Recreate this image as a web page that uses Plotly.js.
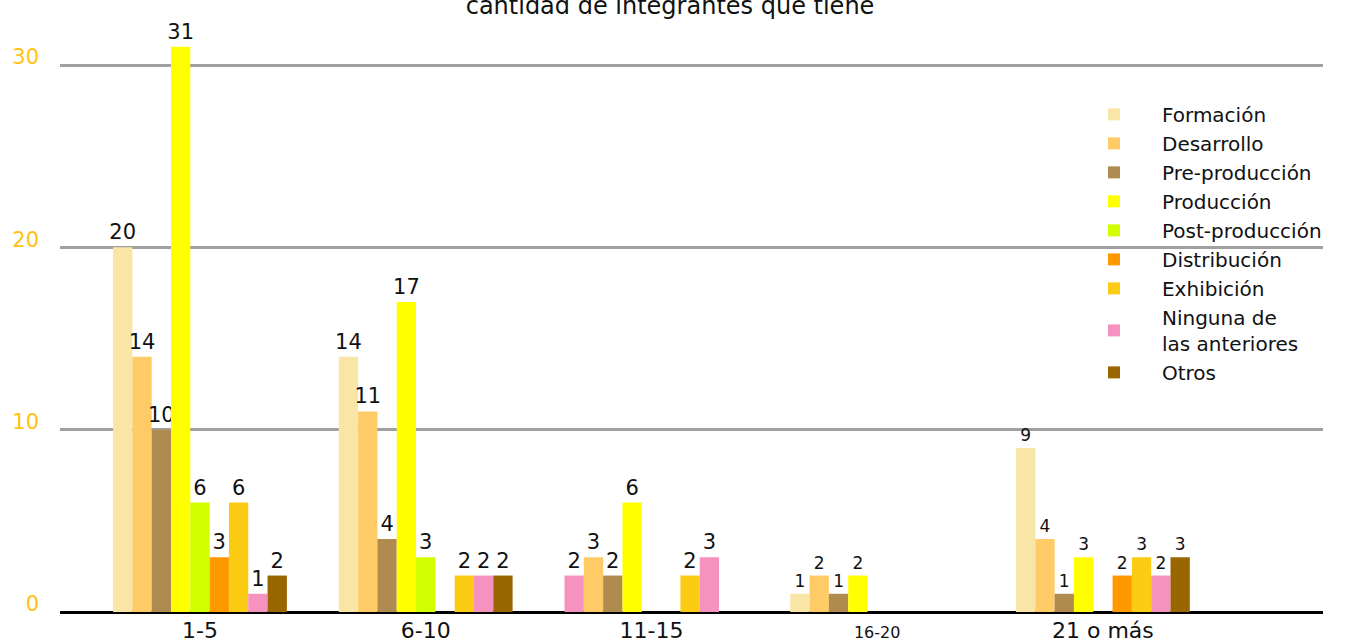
<!DOCTYPE html>
<html>
<head>
<meta charset="utf-8">
<script src="https://cdn.plot.ly/plotly-3.0.1.min.js"></script>
<style>
  html, body { margin: 0; padding: 0; background: #fff; }
  #chart { width: 1366px; height: 644px; }
</style>
</head>
<body>
<div id="chart"></div>
<script>
const categories = ['1-5', '6-10', '11-15', '16-20', '21 o más'];
const tickLabels = ['1-5', '6-10', '11-15', '<span style="font-size:16px">16-20</span>', '21 o más'];

const seriesNames = [
    'Formación', 'Desarrollo', 'Pre-producción', 'Producción', 'Post-producción',
    'Distribución', 'Exhibición', 'Ninguna de<br>las anteriores', 'Otros'
];

const formacion = [20, 14, 2, 1, 9];
const desarrollo = [14, 11, 3, 2, 4];
const preproduccion = [10, 4, 2, 1, 1];
const produccion = [31, 17, 6, 2, 3];
const postproduccion = [6, 3, 0, 0, 0];
const distribucion = [3, 0, 0, 0, 2];
const exhibicion = [6, 2, 2, 0, 3];
const ninguna = [1, 2, 3, 0, 2];
const otros = [2, 2, 0, 0, 3];

const seriesValues = [
    formacion, desarrollo, preproduccion, produccion, postproduccion,
    distribucion, exhibicion, ninguna, otros
];

const seriesColors = [
    '#F9E5A6', '#FECB66', '#B08B50', '#FFFF00', '#D2FF00',
    '#FF9900', '#FCCB14', '#F692C0', '#996600'
];

// the source drew the first bar of 11-15 in pink
const colorOverrides = { 0: { '11-15': '#F692C0' } };

// smaller value labels for the last two groups, as in the source
const labelSizes = [21, 21, 21, 17, 17];

const data = seriesValues.map((values, i) => {
    const overrides = colorOverrides[i] || {};
    return {
        type: 'bar',
        name: seriesNames[i],
        x: categories,
        y: values,
        text: values.map(v => (v ? String(v) : '')),
        textposition: 'outside',
        constraintext: 'none',
        cliponaxis: false,
        textfont: { family: 'DejaVu Sans', size: labelSizes, color: '#111' },
        marker: { color: categories.map(c => overrides[c] || seriesColors[i]) },
        hoverinfo: 'name+y'
    };
});

const layout = {
    width: 1366,
    height: 644,
    margin: { l: 60, r: 43, t: 10, b: 32 },
    paper_bgcolor: '#fff',
    plot_bgcolor: '#fff',
    font: { family: 'DejaVu Sans', color: '#111' },
    title: {
        text: 'cantidad de integrantes que tiene',
        font: { family: 'DejaVu Sans', size: 24, color: '#111' },
        x: 0.483,
        xanchor: 'center',
        xref: 'paper',
        y: 0.978,
        yref: 'container',
        yanchor: 'bottom'
    },
    barmode: 'group',
    bargap: 0.23,
    bargroupgap: 0,
    xaxis: {
        type: 'category',
        range: [-0.62, 4.975],
        tickmode: 'array',
        tickvals: categories,
        ticktext: tickLabels,
        tickfont: { family: 'DejaVu Sans', size: 22, color: '#111' },
        ticks: '',
        showgrid: false,
        showline: false,
        zeroline: false,
        ticklabelstandoff: 3
    },
    yaxis: {
        range: [0, 33.02],
        tickvals: [0, 10, 20, 30],
        tickfont: { family: 'DejaVu Sans', size: 21, color: '#FFC20E' },
        showgrid: true,
        gridcolor: '#A0A0A0',
        gridwidth: 3,
        zeroline: true,
        zerolinecolor: '#000',
        zerolinewidth: 3,
        showline: false,
        ticks: '',
        ticklabelstandoff: 20,
        ticklabelshift: -8
    },
    legend: {
        x: 0.7965,
        xanchor: 'left',
        y: 0.859,
        yanchor: 'top',
        yref: 'paper',
        bgcolor: 'rgba(0,0,0,0)',
        font: { family: 'DejaVu Sans', size: 20, color: '#111' },
        itemwidth: 86,
        tracegroupgap: 0
    },
    showlegend: true
};

Plotly.newPlot('chart', data, layout, { displayModeBar: false, staticPlot: true });
</script>
</body>
</html>
